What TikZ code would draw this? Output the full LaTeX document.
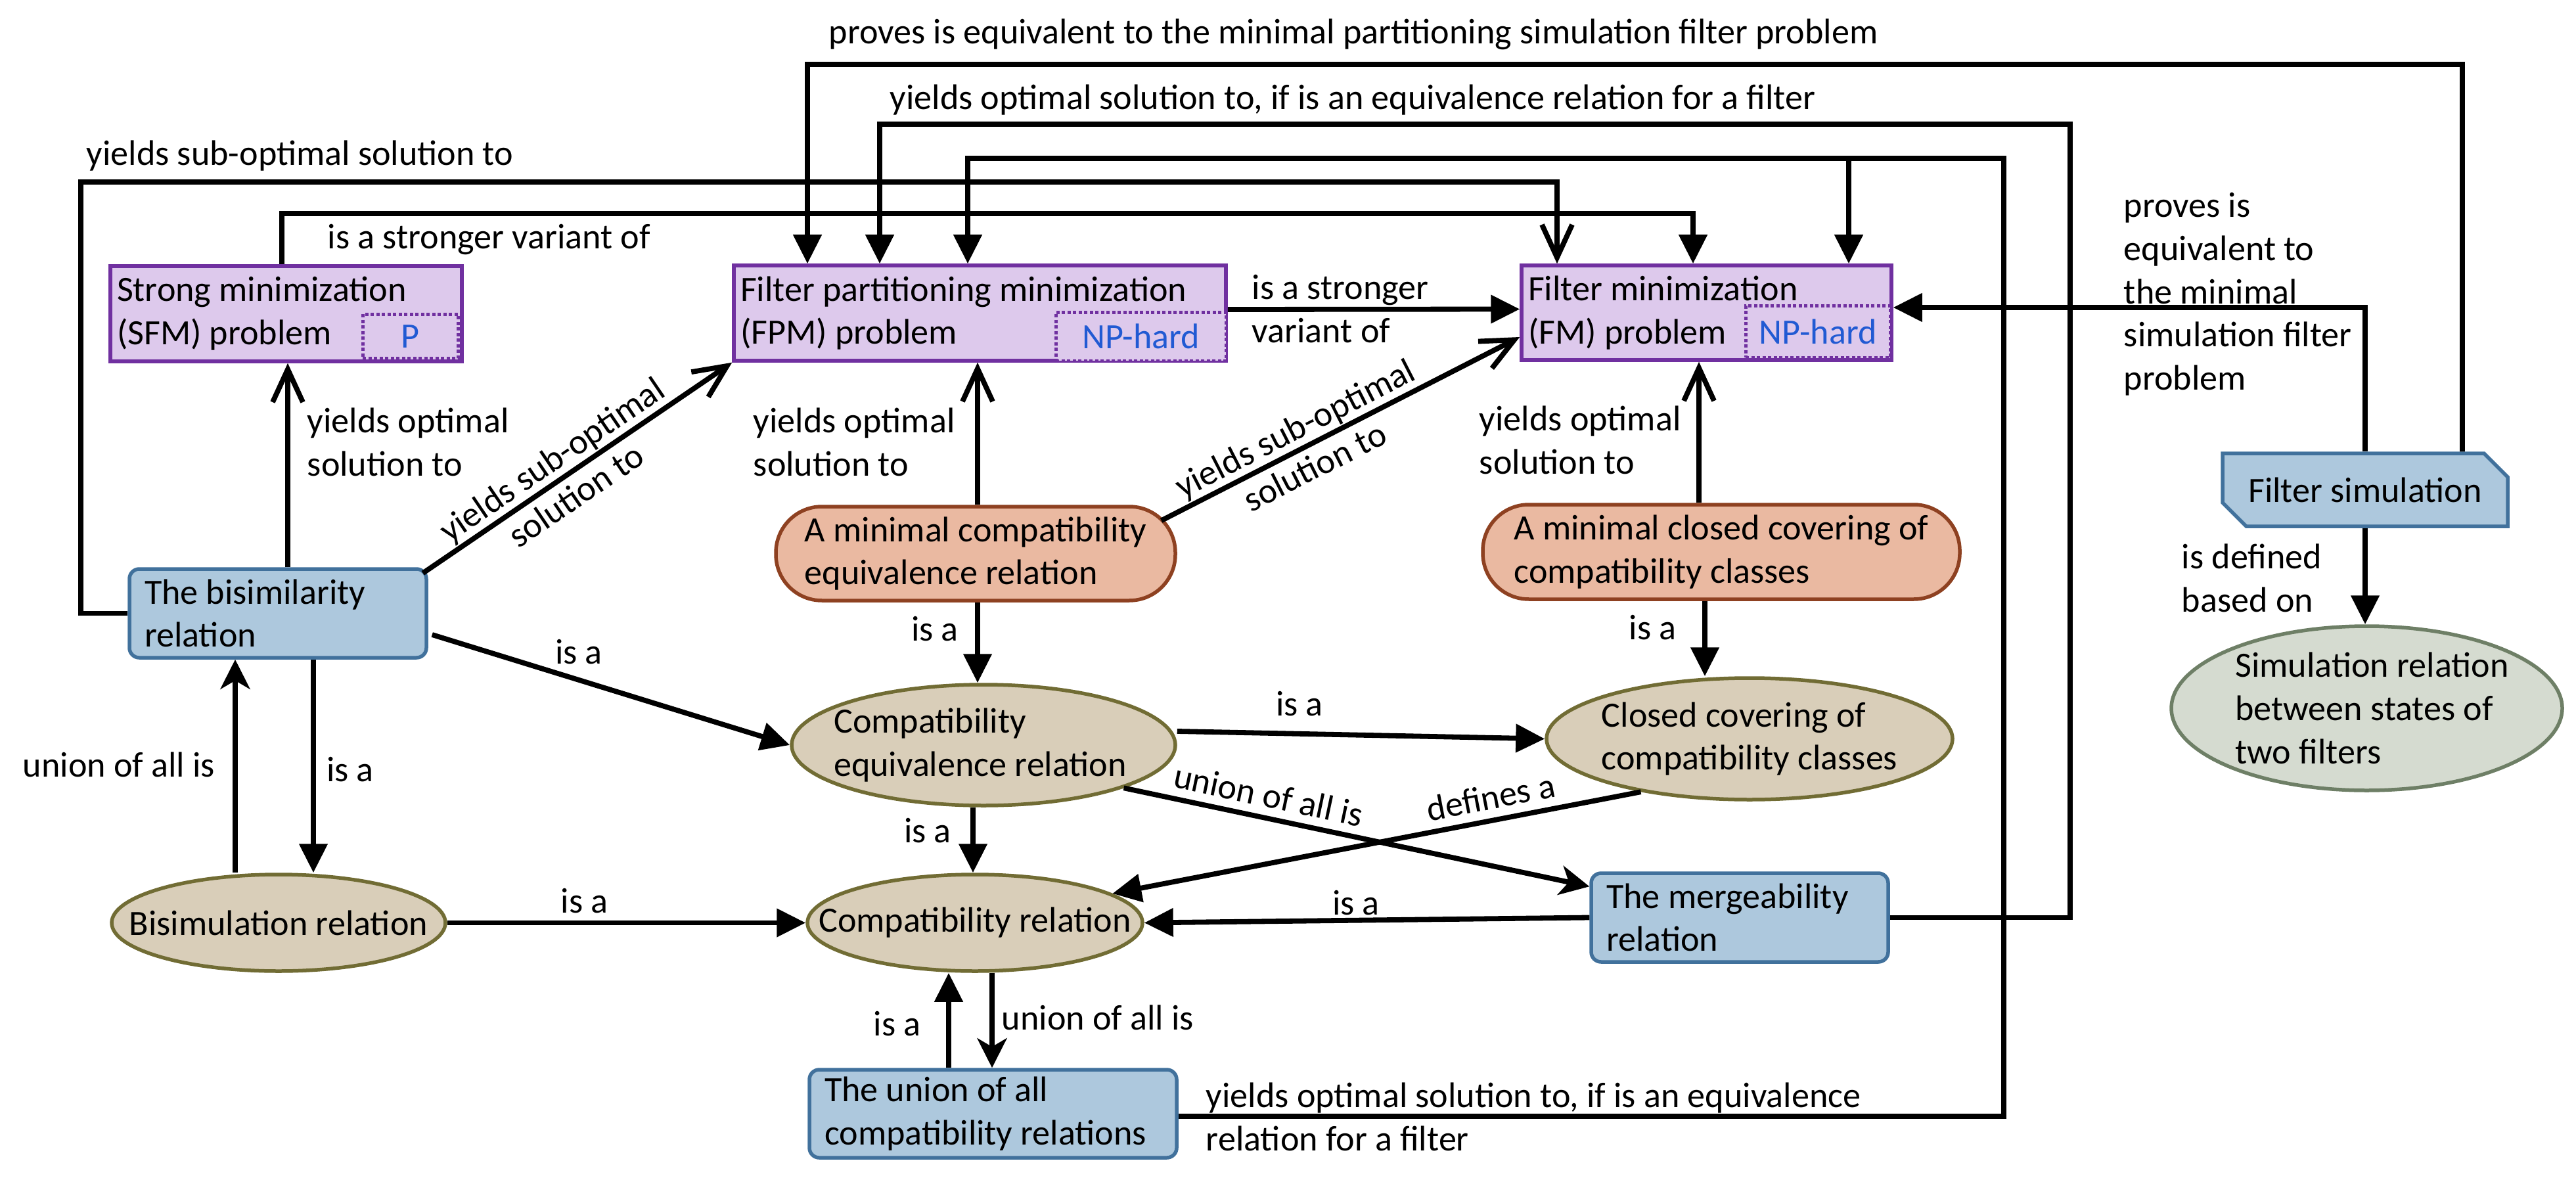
\documentclass[tikz,border=0pt]{standalone}
\usepackage{fontspec}
\setmainfont{Carlito}
\usepackage{xcolor}
\usetikzlibrary{arrows.meta,shapes.geometric,shapes.misc}
\definecolor{probfill}{HTML}{DDC9EC}
\definecolor{probline}{HTML}{7030A0}
\definecolor{tagblue}{HTML}{215AD3}
\definecolor{relfill}{HTML}{ADC8DD}
\definecolor{relline}{HTML}{41719C}
\definecolor{pillfill}{HTML}{EAB9A1}
\definecolor{pillline}{HTML}{8E4121}
\definecolor{tanfill}{HTML}{D9CEB9}
\definecolor{tanline}{HTML}{716C34}
\definecolor{simfill}{HTML}{D5DBD0}
\definecolor{simline}{HTML}{6E7F66}

\begin{document}
\begin{tikzpicture}[font=\fontsize{15.4}{18.7}\selectfont, line width=0.078cm,
    tri/.style={-{Triangle[length=0.44cm,width=0.42cm]}},
    stl/.style={-{Stealth[length=0.45cm,width=0.45cm,inset=0.13cm]}},
    opn/.style={-{Straight Barb[length=0.5cm,width=0.46cm]}},
    prob/.style={draw=probline, fill=probfill, line width=0.055cm, inner xsep=0.1cm, inner ysep=0, align=flush left},
    tag/.style={draw=probline, fill=probfill, line width=0.05cm, dash pattern=on 0.05cm off 0.035cm, text=tagblue, anchor=south east, inner sep=0},
    rel/.style={draw=relline, fill=relfill, rounded corners=0.15cm, line width=0.055cm, inner xsep=0.23cm, inner ysep=0, align=flush left},
    pill/.style={draw=pillline, fill=pillfill, rounded corners=0.7cm, line width=0.055cm, inner sep=0, align=left},
    tanell/.style={ellipse, draw=tanline, fill=tanfill, line width=0.055cm},
    lbl/.style={inner sep=0}]
    \useasboundingbox (0,0) rectangle (39.21,-17.99);
    % problems
    \node[prob, minimum width=5.35cm, minimum height=1.45cm, text width=5.15cm] (sfm) at (4.355,-4.775) {Strong minimization\\(SFM) problem};
    \node[tag, minimum width=1.45cm, minimum height=0.67cm] (sfmtag) at ([shift={(-0.06,0.05)}]sfm.south east) {P};
    \node[prob, minimum width=7.49cm, minimum height=1.45cm, text width=7.29cm] (fpm) at (14.915,-4.765) {Filter partitioning minimization\\(FPM) problem};
    \node[tag, minimum width=2.59cm, minimum height=0.74cm] (fpmtag) at (fpm.south east) {NP-hard};
    \node[prob, minimum width=5.63cm, minimum height=1.44cm, text width=5.43cm] (fm) at (25.975,-4.76) {Filter minimization\\(FM) problem};
    \node[tag, minimum width=2.2cm, minimum height=0.79cm] (fmtag) at ([shift={(-0.02,0.04)}]fm.south east) {NP-hard};
    % relations
    \node[rel, minimum width=4.52cm, minimum height=1.35cm, text width=4.06cm] (bisim) at (4.23,-9.335) {The bisimilarity\\relation};
    \node[rel, minimum width=5.59cm, minimum height=1.34cm, text width=5.13cm] (union) at (15.115,-16.95) {The union of all\\compatibility relations};
    \node[rel, minimum width=4.52cm, minimum height=1.35cm, text width=4.06cm] (merge) at (26.48,-13.965) {The mergeability\\relation};
    \node[chamfered rectangle, chamfered rectangle corners={north east,south west}, chamfered rectangle xsep=0.18cm, chamfered rectangle ysep=0.18cm, draw=relline, fill=relfill, line width=0.055cm, minimum width=4.34cm, minimum height=1.11cm] (fsim) at (36.0,-7.455) {Filter simulation};
    \node[pill, minimum width=6.08cm, minimum height=1.43cm] (mince) at (14.85,-8.425) {A minimal compatibility\\equivalence relation};
    \node[pill, minimum width=7.26cm, minimum height=1.44cm] (mincc) at (26.2,-8.4) {A minimal closed covering of\\compatibility classes};
    \node[tanell, minimum width=5.84cm, minimum height=1.84cm] (cer) at (14.97,-11.34) {};
    \node[align=left] (certxt) at ([xshift=-0.05cm]cer.center) {Compatibility\\equivalence relation};
    \node[tanell, minimum width=6.18cm, minimum height=1.85cm] (ccc) at (26.63,-11.245) {};
    \node[align=left] (ccctxt) at (ccc.center) {Closed covering of\\compatibility classes};
    \node[tanell, minimum width=5.10cm, minimum height=1.47cm] (cr) at (14.84,-14.045) {};
    \node (crtxt) at (cr.center) {Compatibility relation};
    \node[tanell, minimum width=5.08cm, minimum height=1.47cm] (bisimrel) at (4.24,-14.045) {};
    \node (bisimreltxt) at (bisimrel.center) {Bisimulation relation};
    \node[ellipse, draw=simline, fill=simfill, line width=0.055cm, minimum width=5.95cm, minimum height=2.5cm] (simrel) at (36.025,-10.78) {};
    \node[align=left] (simreltxt) at ([xshift=0.08cm]simrel.center) {Simulation relation\\between states of\\two filters};

    % long connectors over the top
    \draw[tri] ([xshift=-0.065cm]sfm.north) -- ++(0,0.77) -| ([xshift=-0.205cm]fm.north);
    \draw[opn] (bisim.west) -| (1.23,-2.77) -| ([xshift=-2.275cm]fm.north);
    \draw[tri] ([xshift=1.48cm]fsim.north) |- (12.29,-0.98) -- ([xshift=-2.625cm]fpm.north);
    \draw[tri] (merge.east) -| (31.51,-1.89) -| ([xshift=-1.525cm]fpm.north);
    \draw[tri] ([yshift=-0.04cm]union.east) -| (30.50,-2.41) -| ([xshift=-0.185cm]fpm.north);
    \coordinate (split) at (28.14,-2.41);
    \draw[tri] (split) -- (split |- fm.north);
    \draw[tri] (fsim.north) |- ([yshift=0.08cm]fm.east);
    \draw[tri] (fsim.south) -- (fsim.south |- simrel.north);
    \draw[tri] ([yshift=0.055cm]fpm.east) -- ([yshift=0.055cm]fm.west);
    % optimal and sub-optimal solutions
    \draw[opn] ([xshift=0.15cm]bisim.north) -- ([xshift=0.15cm]bisim.north |- sfm.south);
    \draw[opn] ([shift={(-0.08,-0.09)}]bisim.north east) -- node[lbl, sloped, align=center, pos=0.455] (lsub1) {yields sub-optimal\\solution to} (fpm.south west);
    \draw[opn] ([xshift=0.03cm]mince.north) -- ([xshift=0.03cm]mince.north |- fpm.south);
    \draw[opn] ([shift={(-0.24,-0.24)}]mince.north east) -- node[lbl, sloped, align=center, pos=0.40] (lsub2) {yields sub-optimal\\solution to} ([yshift=-0.37cm]fm.west);
    \draw[opn] ([xshift=-0.34cm]mincc.north) -- ([xshift=-0.34cm]mincc.north |- fm.south);
    % is a
    \draw[tri] ([shift={(0.06,-0.325)}]bisim.east) -- (cer.west);
    \draw[tri] ([xshift=0.54cm]bisim.south) -- ([xshift=0.54cm]bisim.south |- bisimrel.north);
    \draw[stl] ([xshift=-0.66cm]bisimrel.north) -- ([xshift=-0.66cm]bisimrel.north |- bisim.south);
    \draw[tri] ([xshift=0.03cm]mince.south) -- ([xshift=0.03cm]mince.south |- cer.north);
    \draw[tri] ([yshift=0.21cm]cer.east) -- (ccc.west);
    \draw[tri] ([xshift=-0.25cm]mincc.south) -- ([xshift=-0.25cm]mincc.south |- ccc.north);
    \draw[tri] ([xshift=-0.16cm]cer.south) -- ([xshift=-0.16cm]cer.south |- cr.north);
    \draw[stl] (cer.-17) -- ([yshift=-0.23cm]merge.north west);
    \draw[tri] (ccc.206) -- (cr.12);
    \draw[tri] (merge.west) -- (cr.east);
    \draw[tri] (bisimrel.east) -- (cr.west);
    \draw[tri] ([xshift=-0.675cm]union.north) -- ([xshift=-0.675cm]union.north |- cr.south);
    \draw[stl] ([xshift=0.26cm]cr.south) -- ([xshift=0.26cm]cr.south |- union.north);

    % labels
    \node[lbl, anchor=base west] (lprove) at (12.58,-0.67) {proves is equivalent to the minimal partitioning simulation filter problem};
    \node[lbl, anchor=base west] (lmerge) at (13.51,-1.67) {yields optimal solution to, if is an equivalence relation for a filter};
    \node[lbl, anchor=base west] (lsub) at (1.28,-2.52) {yields sub-optimal solution to};
    \node[lbl, anchor=base west] (lstrong) at (4.95,-3.79) {is a stronger variant of};
    \node[lbl, anchor=west, align=left] (lsim) at (32.29,-4.48) {proves is\\equivalent to\\the minimal\\simulation filter\\problem};
    \node[lbl, anchor=west, align=left] (ldef) at (33.17,-8.80) {is defined\\based on};
    \node[lbl, anchor=west, align=left] (lfpmfm) at (19.02,-4.70) {is a stronger\\variant of};
    \node[lbl, anchor=west, align=left] (lopt1) at (4.64,-6.73) {yields optimal\\solution to};
    \node[lbl, anchor=west, align=left] (lopt2) at (11.43,-6.73) {yields optimal\\solution to};
    \node[lbl, anchor=west, align=left] (lopt3) at (22.48,-6.70) {yields optimal\\solution to};
    \node[lbl] (lisa1) at (8.81,-9.92) {is a};
    \node[lbl] (lisa2) at (5.33,-11.71) {is a};
    \node[lbl] (lall1) at (1.81,-11.64) {union of all is};
    \node[lbl] (lisa3) at (8.895,-13.71) {is a};
    \node[lbl] (lisa4) at (14.23,-9.575) {is a};
    \node[lbl] (lisa5) at (19.78,-10.715) {is a};
    \node[lbl] (lisa6) at (25.155,-9.55) {is a};
    \node[lbl] (lisa7) at (14.12,-12.645) {is a};
    \node[lbl, rotate=-12] (lall2) at (19.31,-12.10) {union of all is};
    \node[lbl, rotate=11] (ldefa) at (22.69,-12.13) {defines a};
    \node[lbl] (lisa8) at (20.64,-13.745) {is a};
    \node[lbl] (lisa9) at (13.655,-15.585) {is a};
    \node[lbl, anchor=west] (lall3) at (15.21,-15.49) {union of all is};
    \node[lbl, anchor=west, align=left] (lunion) at (18.32,-17.00) {yields optimal solution to, if is an equivalence\\relation for a filter};
\end{tikzpicture}
\end{document}
